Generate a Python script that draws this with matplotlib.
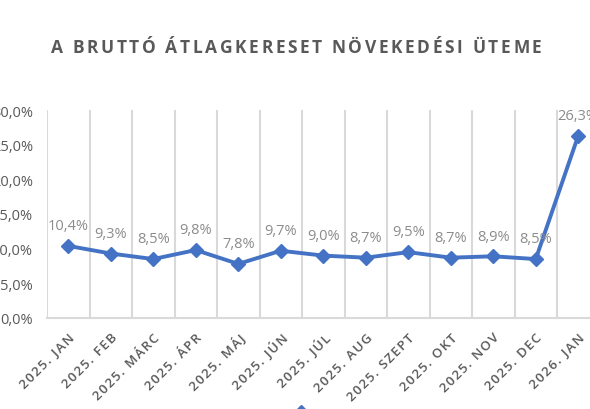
import numpy as np
import matplotlib.pyplot as plt
from matplotlib.lines import Line2D

# monthly growth of gross average wages (%)
months = ['2025. JAN', '2025. FEB', '2025. MÁRC', '2025. ÁPR', '2025. MÁJ',
          '2025. JÚN', '2025. JÚL', '2025. AUG', '2025. SZEPT', '2025. OKT',
          '2025. NOV', '2025. DEC', '2026. JAN']
growth = [10.4, 9.3, 8.5, 9.8, 7.8, 9.7, 9.0, 8.7, 9.5, 8.7, 8.9, 8.5, 26.3]
yticks = [0, 5, 10, 15, 20, 25, 30]
title = 'A BRUTTÓ ÁTLAGKERESET NÖVEKEDÉSI ÜTEME'

plt.rcParams['font.family'] = ['Open Sans', 'DejaVu Sans']

HAIR = '\u200a'


def spaced(s):
    return HAIR.join(s)


fig = plt.figure(figsize=(5.9, 4.1), dpi=100)
fig.patch.set_facecolor('white')
# plot area runs past the right edge, the source picture is cropped
ax = fig.add_axes([47 / 590, 91 / 410, 552.5 / 590, 208 / 410])

x = np.arange(len(months))
ax.plot(x, growth, color='#4472C4', lw=2.8, marker='D', ms=7, zorder=3,
        clip_on=False)

for xi, v in zip(x, growth):
    ax.annotate(f'{v:.1f}%'.replace('.', ','), (xi, v), xytext=(0, 14.5),
                textcoords='offset points', ha='center', va='center',
                fontsize=10.5, color='#8c8c8c', clip_on=False)

ax.set_xlim(-0.5, len(months) - 0.5)
ax.set_ylim(0, 30)
ax.set_yticks(yticks)
ax.set_yticklabels([f'{t:.1f}%'.replace('.', ',') for t in yticks])
ax.set_xticks(x)
ax.set_xticklabels([spaced(m) for m in months], rotation=45, ha='right',
                   rotation_mode='anchor', fontsize=9.5, color='#595959',
                   fontweight='semibold')

# vertical gridlines on category boundaries
ax.set_xticks(np.arange(-0.5, len(months), 1), minor=True)
ax.grid(True, which='minor', axis='x', color='#d9d9d9', lw=1.5)
ax.grid(False, which='major')
ax.tick_params(axis='x', which='both', length=0, pad=9)
ax.tick_params(axis='y', length=0, labelsize=10.5, labelcolor='#595959', pad=10)

for s in ['top', 'right', 'left']:
    ax.spines[s].set_visible(False)
ax.spines['bottom'].set_color('#d9d9d9')
ax.spines['bottom'].set_linewidth(1.5)

# title with letter spacing, one character at a time
renderer = fig.canvas.get_renderer()
track = 2.6  # px between letters
widths = []
for ch in title:
    t = fig.text(0, 0, ch if ch != ' ' else 'n', fontsize=12.5,
                 fontweight='bold')
    w = t.get_window_extent(renderer).width
    if ch == ' ':
        w *= 0.4
    widths.append(w)
    t.remove()
total = sum(widths) + track * (len(title) - 1)
xpos = 296 - total / 2
for ch, w in zip(title, widths):
    if ch != ' ':
        fig.text(xpos / 590, 1 - 48 / 410, ch, ha='left', va='center',
                 fontsize=12.5, fontweight='bold', color='#595959')
    xpos += w + track

# legend, mostly cut by the bottom edge as in the source
handle = Line2D([], [], color='#4472C4', lw=2.8, marker='D', ms=7)
fig.legend([handle], [''], loc='upper center', frameon=False,
           bbox_to_anchor=(307 / 590, 1 - 394 / 410), handlelength=2.5)

fig.savefig('out.png', dpi=100)
